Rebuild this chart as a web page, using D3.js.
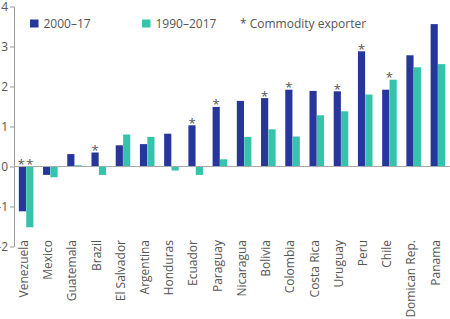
<html>
<head>
<style>
    body { margin: 0; background: #fff; }
    text { font-family: "Open Sans", sans-serif; }
</style>
</head>
<body>
    <svg id="container" width="450" height="319"></svg>
</body>
<script src="https://cdn.jsdelivr.net/npm/d3@7"></script>
<script>
    let countries = ["Venezuela", "Mexico", "Guatemala", "Brazil", "El Salvador", "Argentina", "Honduras", "Ecuador",
        "Paraguay", "Nicaragua", "Bolivia", "Colombia", "Costa Rica", "Uruguay", "Peru", "Chile", "Domican Rep.", "Panama"]
    let growth2000 = [-1.12, -0.21, 0.31, 0.35, 0.53, 0.56, 0.82, 1.03, 1.49, 1.64, 1.71, 1.92, 1.89, 1.88, 2.88, 1.92, 2.78, 3.56]
    let growth1990 = [-1.52, -0.27, 0.03, -0.21, 0.80, 0.74, -0.10, -0.21, 0.18, 0.74, 0.93, 0.75, 1.28, 1.38, 1.80, 2.17, 2.48, 2.56]
    let commodity = [true, false, false, true, false, false, false, true, true, false, true, true, false, true, true, true, false, false]
    let yTicks = [-2, -1, 0, 1, 2, 3, 4]
    let seriesNames = ["2000–17", "1990–2017"]
    let colors = ["#26369a", "#35c4ab"]

    let container = d3.select("#container")

    let xScale = d3.scaleBand()
        .range([14, 450])
        .domain(countries)
        .paddingInner(0.38)
        .paddingOuter(0.19)

    let subScale = d3.scaleBand()
        .range([0, xScale.bandwidth()])
        .domain([0, 1])
        .padding(0.03)

    let yScale = d3.scaleLinear()
        .range([246.5, 6.5])
        .domain([-2, 4])

    // y axis
    let yAxis = container.append("g")
        .attr("transform", "translate(14,0)")
        .call(d3.axisLeft(yScale).tickValues(yTicks).tickSize(4).tickSizeOuter(0).tickPadding(2)
            .tickFormat(d => String(d)))
    yAxis.select(".domain").attr("stroke", "#999")
    yAxis.selectAll(".tick line").attr("stroke", "#999")
    yAxis.selectAll(".tick text").attr("fill", "#555").style("font-size", "12px")

    let rows = countries.map((c, i) => ({ name: c, vals: [growth2000[i], growth1990[i]], star: commodity[i] }))

    let groups = container.selectAll("g.country")
        .data(rows)
        .enter()
        .append("g")
        .attr("class", "country")
        .attr("transform", d => "translate(" + xScale(d.name) + ",0)")

    groups.selectAll("rect")
        .data(d => d.vals)
        .enter()
        .append("rect")
        .attr("x", (v, j) => subScale(j))
        .attr("width", subScale.bandwidth())
        .attr("y", v => yScale(Math.max(0, v)))
        .attr("height", v => Math.abs(yScale(v) - yScale(0)))
        .attr("fill", (v, j) => colors[j])

    // zero line
    container.append("line")
        .attr("x1", 14).attr("x2", 450)
        .attr("y1", yScale(0)).attr("y2", yScale(0))
        .attr("stroke", "#aaa")

    // commodity exporter stars
    rows.filter(d => d.star).forEach(d => {
        let g = container.append("g").attr("transform", "translate(" + xScale(d.name) + ",0)")
        let b = d.vals[0], t = d.vals[1]
        let spots = []
        if (b < 0 && t < 0) {
            spots = [[subScale(0) + subScale.bandwidth() / 2 - 1, 0], [subScale(1) + subScale.bandwidth() / 2, 0]]
        } else if (b >= t) {
            spots = [[subScale(0) + subScale.bandwidth() / 2, b]]
        } else {
            spots = [[xScale.bandwidth() / 2, t]]
        }
        spots.forEach(s => {
            g.append("text")
                .attr("x", s[0])
                .attr("y", yScale(s[1]) + 2.5)
                .attr("text-anchor", "middle")
                .attr("fill", "#555")
                .style("font-size", "13px")
                .text("*")
        })
    })

    // x labels
    container.selectAll("text.xlab")
        .data(countries)
        .enter()
        .append("text")
        .attr("class", "xlab")
        .attr("transform", d => "translate(" + (xScale(d) + xScale.bandwidth() / 2) + ",240) rotate(-90)")
        .attr("dy", "0.15em")
        .attr("text-anchor", "end")
        .attr("fill", "#555")
        .style("font-size", "12px")
        .text(d => d)

    // legend
    let legendX = [30, 142]
    seriesNames.forEach((s, i) => {
        container.append("rect")
            .attr("x", legendX[i]).attr("y", 19.5)
            .attr("width", 8.5).attr("height", 8)
            .attr("fill", colors[i])
        container.append("text")
            .attr("x", legendX[i] + 13.5).attr("y", 28)
            .attr("fill", "#555")
            .style("font-size", "12px")
            .text(s)
    })
    container.append("text")
        .attr("x", 240).attr("y", 28)
        .attr("fill", "#555")
        .style("font-size", "12px")
        .text("* Commodity exporter")
</script>
</html>
